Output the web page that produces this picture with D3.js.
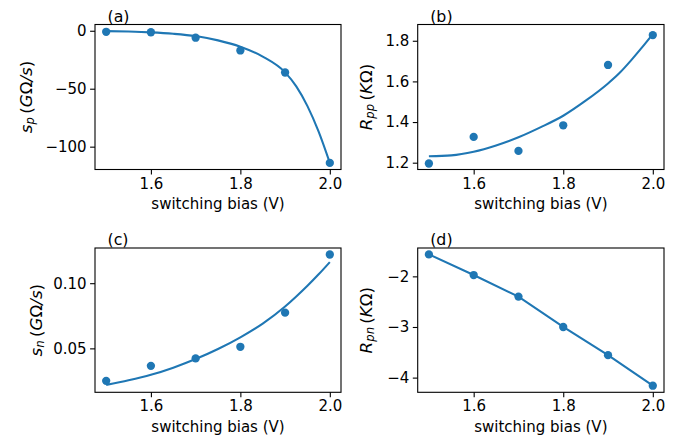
<!DOCTYPE html>
<html><head><meta charset="utf-8">
<script src="https://cdn.jsdelivr.net/npm/d3@7"></script>
<style>
body{margin:0;background:#fff;}
svg{display:block;font-family:"DejaVu Sans",sans-serif;}
</style></head>
<body><svg id="c" width="681" height="435"></svg>
<script>
// switching bias (V)
const bias = [1.5, 1.6, 1.7, 1.8, 1.9, 2.0];
// measured values
const sp  = [-0.9, -1.3, -6.0, -17.0, -36.0, -114.0];
const Rpp = [1.196, 1.327, 1.258, 1.384, 1.681, 1.828];
const sn  = [0.0251, 0.0366, 0.0423, 0.0512, 0.0774, 0.1220];
const Rpn = [-1.566, -1.974, -2.40, -3.00, -3.556, -4.16];
// fitted curves
const fitX   = [1.5, 1.55, 1.6, 1.65, 1.7, 1.75, 1.8, 1.85, 1.9, 1.925, 1.95, 1.975, 2.0];
const spFit  = [-0.3, -0.7, -1.4, -2.6, -4.6, -8.3, -13.8, -22.3, -35.9, -48, -65, -87, -114];
const RppFit = [1.2315, 1.236, 1.254, 1.285, 1.325, 1.375, 1.431, 1.505, 1.59, 1.64, 1.70, 1.765, 1.833];
const snFit  = [0.022, 0.0255, 0.0297, 0.0352, 0.0418, 0.0495, 0.0585, 0.069, 0.0821, 0.0898, 0.098, 0.1068, 0.1162];
const RpnFit = Rpn;
// ticks
const xTicks = [1.6, 1.8, 2.0];
const xTickLabels = ["1.6", "1.8", "2.0"];
const spTicks = [0, -50, -100], spTickLabels = ["0", "\u221250", "\u2212100"];
const RppTicks = [1.2, 1.4, 1.6, 1.8], RppTickLabels = ["1.2", "1.4", "1.6", "1.8"];
const snTicks = [0.05, 0.10], snTickLabels = ["0.05", "0.10"];
const RpnTicks = [-2, -3, -4], RpnTickLabels = ["\u22122", "\u22123", "\u22124"];
const panelLabels = ["(a)", "(b)", "(c)", "(d)"];
const xLabel = "switching bias (V)";

const color = "#1f77b4";
const fs = 15;
const fsY = 16.7;
const fsP = 15.8;
const svg = d3.select("#c");

const panels = [
  {lab: panelLabels[0], x0: 95, x1: 341, y0: 24.5, y1: 169.5, yd: [-119.7, 5.4], pts: sp, fx: fitX, fy: spFit,
   yt: spTicks, ytl: spTickLabels, ylx: 26, ylab: ["s", "p", "G", "/s"], curve: d3.curveMonotoneX},
  {lab: panelLabels[1], x0: 417.7, x1: 664, y0: 24.5, y1: 169.5, yd: [1.1665, 1.88], pts: Rpp, fx: fitX, fy: RppFit,
   yt: RppTicks, ytl: RppTickLabels, ylx: 366, ylab: ["R", "pp", "K", ""], curve: d3.curveMonotoneX},
  {lab: panelLabels[2], x0: 95, x1: 341, y0: 248, y1: 392.3, yd: [0.0163, 0.127], pts: sn, fx: fitX, fy: snFit,
   yt: snTicks, ytl: snTickLabels, ylx: 36, ylab: ["s", "n", "G", "/s"], curve: d3.curveMonotoneX},
  {lab: panelLabels[3], x0: 417.7, x1: 664, y0: 248, y1: 392.3, yd: [-4.29, -1.44], pts: Rpn, fx: bias, fy: RpnFit,
   yt: RpnTicks, ytl: RpnTickLabels, ylx: 366, ylab: ["R", "pn", "K", ""], curve: d3.curveLinear}
];

panels.forEach(p => {
  const x = d3.scaleLinear().domain([1.475, 2.025]).range([p.x0, p.x1]);
  const y = d3.scaleLinear().domain(p.yd).range([p.y1, p.y0]);
  const g = svg.append("g");
  const clipId = "clip" + p.lab.replace(/\W/g, "");
  g.append("clipPath").attr("id", clipId).append("rect")
    .attr("x", p.x0).attr("y", p.y0).attr("width", p.x1 - p.x0).attr("height", p.y1 - p.y0);

  // fit line
  const line = d3.line().x((d, i) => x(p.fx[i])).y(d => y(d)).curve(p.curve);
  g.append("path").datum(p.fy).attr("d", line).attr("fill", "none")
    .attr("stroke", color).attr("stroke-width", 2.08).attr("clip-path", `url(#${clipId})`);
  // points
  g.selectAll("circle.pt").data(p.pts).join("circle").attr("class", "pt")
    .attr("cx", (d, i) => x(bias[i])).attr("cy", d => y(d)).attr("r", 4.15).attr("fill", color);

  // axes
  const xa = d3.axisBottom(x).tickValues(xTicks).tickFormat((d, i) => xTickLabels[i]).tickSize(4.9).tickPadding(3.5);
  const gx = g.append("g").attr("transform", `translate(0,${p.y1})`).call(xa);
  const ya = d3.axisLeft(y).tickValues(p.yt).tickFormat((d, i) => p.ytl[i]).tickSize(4.9).tickPadding(3.5);
  const gy = g.append("g").attr("transform", `translate(${p.x0},0)`).call(ya);
  [gx, gy].forEach(a => {
    a.select(".domain").remove();
    a.selectAll("line").attr("stroke", "#000").attr("stroke-width", 1.1);
    a.selectAll("text").attr("font-size", fs).attr("fill", "#000").attr("font-family", "DejaVu Sans");
  });
  // frame
  g.append("rect").attr("x", p.x0).attr("y", p.y0).attr("width", p.x1 - p.x0).attr("height", p.y1 - p.y0)
    .attr("fill", "none").attr("stroke", "#000").attr("stroke-width", 1.1);

  // x label
  g.append("text").attr("x", (p.x0 + p.x1) / 2).attr("y", p.y1 + 39.5).attr("text-anchor", "middle")
    .attr("font-size", fs).attr("fill", "#000").text(xLabel);

  // y label
  const yl = g.append("text").attr("transform", `translate(${p.ylx},${(p.y0 + p.y1) / 2}) rotate(-90)`)
    .attr("text-anchor", "middle").attr("dominant-baseline", "central").attr("font-size", fsY).attr("fill", "#000");
  yl.append("tspan").attr("font-style", "italic").text(p.ylab[0]);
  yl.append("tspan").attr("font-style", "italic").attr("font-size", fsY * 0.7).attr("dy", 3.5).text(p.ylab[1]);
  yl.append("tspan").attr("dy", -3.5).text("\u2009(");
  yl.append("tspan").attr("font-style", "italic").text(p.ylab[2]);
  yl.append("tspan").text("\u03A9");
  if (p.ylab[3]) yl.append("tspan").attr("font-style", "italic").text(p.ylab[3]);
  yl.append("tspan").text(")");

  // panel label
  g.append("text").attr("x", p.x0 + 12.5).attr("y", p.y0 - 3).attr("font-size", fsP).attr("fill", "#000").text(p.lab);
});
</script></body></html>
